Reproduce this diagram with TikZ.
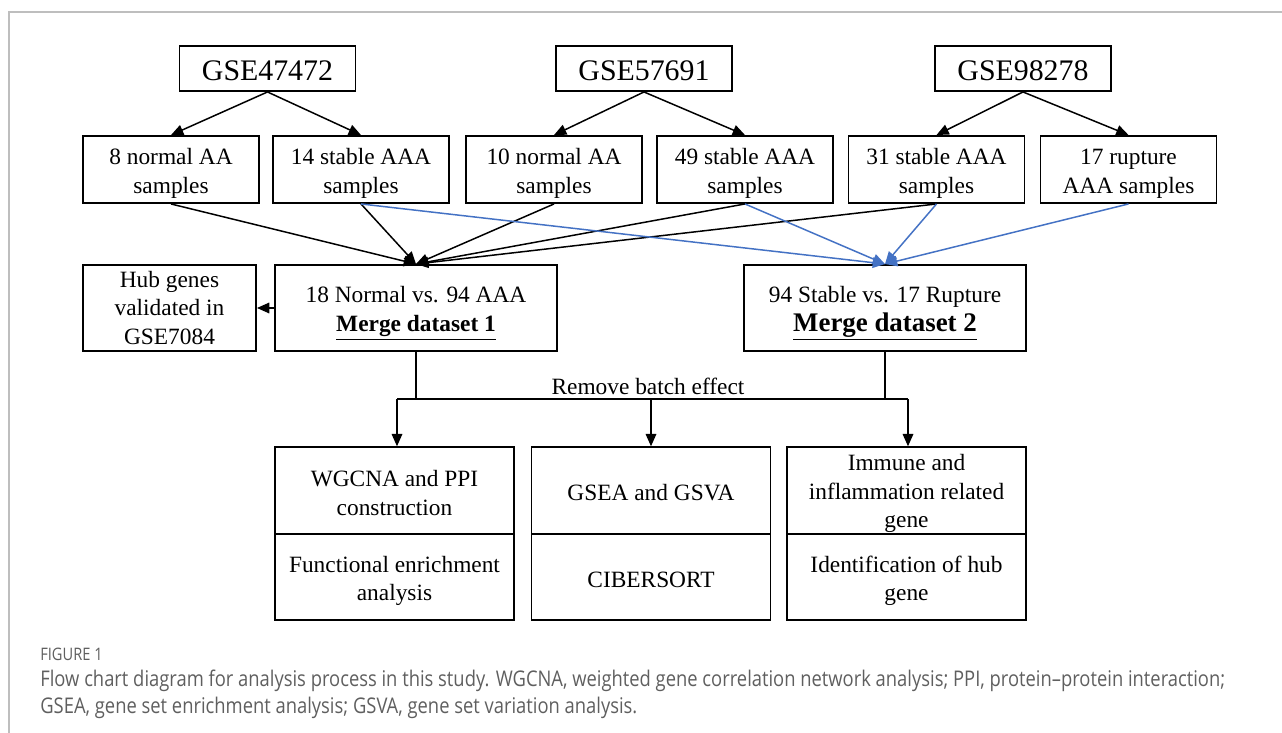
\documentclass[tikz,border=0pt]{standalone}
\usepackage{fontspec}
\setmainfont{Liberation Serif}
\newfontfamily\capfont[FakeStretch=0.85]{Open Sans}
\usetikzlibrary{arrows.meta}
\definecolor{linkblue}{RGB}{68,114,196}
\definecolor{capgray}{RGB}{95,95,95}
\definecolor{framegray}{RGB}{190,190,190}
% strut that lowers the first line a little, as in the original layout
\newcommand{\fl}[1][13.5pt]{\rule{0pt}{#1}}
\tikzset{
  gsebox/.style={draw, line width=1.1pt, minimum width=3.52cm, minimum height=0.9cm, inner sep=0pt, font=\fontsize{17}{20}\selectfont},
  samplebox/.style={draw, line width=1.1pt, minimum width=3.52cm, minimum height=1.34cm, inner sep=0pt, align=center, font=\fontsize{13.3}{16.4}\selectfont},
  mergebox/.style={draw, line width=1.1pt, minimum width=5.63cm, minimum height=1.72cm, inner sep=0pt, align=center, font=\fontsize{13.3}{16.4}\selectfont},
  taskbox/.style={draw, line width=1.1pt, minimum width=4.78cm, minimum height=1.73cm, inner sep=0pt, align=center, font=\fontsize{13.3}{16.2}\selectfont},
  flow/.style={line width=0.85pt, -{Triangle[length=7pt,width=6pt]}},
  blueflow/.style={flow, linkblue},
  capline/.style={anchor=base west, inner sep=0pt, text=capgray, font=\capfont\fontsize{12.3}{14}\selectfont}
}

\begin{document}
\begin{tikzpicture}[x=0.02cm, y=-0.02cm]
    %%%%% START %%%%%
    \useasboundingbox (0,0) rectangle (1282,733);
    \draw[framegray, line width=0.9pt] (9,733) -- (9,12) -- (1282,12);

    % datasets
    \node[gsebox] (gseA) at (267.5,68.5) {\fl[14pt]GSE47472};
    \node[gsebox] (gseB) at (644,68.5) {\fl[14pt]GSE57691};
    \node[gsebox] (gseC) at (1023,68.5) {\fl[14pt]GSE98278};

    % sample groups
    \node[samplebox] (sA1) at (171,169.5) {\fl 8 normal AA\\samples};
    \node[samplebox] (sA2) at (361,169.5) {\fl 14 stable AAA\\samples};
    \node[samplebox] (sB1) at (554,169.5) {\fl 10 normal AA\\samples};
    \node[samplebox] (sB2) at (745,169.5) {\fl 49 stable AAA\\samples};
    \node[samplebox] (sC1) at (936.5,169.5) {\fl 31 stable AAA\\samples};
    \node[samplebox] (sC2) at (1128.5,169.5) {\fl 17 rupture\\AAA samples};

    \draw[flow] (gseA.south) -- (sA1.north);
    \draw[flow] (gseA.south) -- (sA2.north);
    \draw[flow] (gseB.south) -- (sB1.north);
    \draw[flow] (gseB.south) -- (sB2.north);
    \draw[flow] (gseC.south) -- (sC1.north);
    \draw[flow] (gseC.south) -- (sC2.north);

    % merged sets
    \node[samplebox, minimum width=3.46cm, minimum height=1.72cm] (hub) at (169.5,308) {Hub genes\\validated in\\GSE7084};
    \node[mergebox] (merge1) at (416,308) {\fl[15.5pt]18 Normal vs. 94 AAA\\\underline{\textbf{Merge dataset 1}}};
    \node[mergebox] (merge2) at (885,308) {\fl[15.5pt]94 Stable vs. 17 Rupture\\\fontsize{15.3}{19.5}\selectfont\underline{\textbf{Merge dataset 2}}};

    \foreach \s in {sA1,sA2,sB1,sB2,sC1}
      \draw[flow] (\s.south) -- (merge1.north);
    \foreach \s in {sA2,sB2,sC1,sC2}
      \draw[blueflow] (\s.south) -- (merge2.north);
    \draw[flow] (merge1.west) -- (hub.east);

    % batch correction
    \coordinate (jl) at (397,399);
    \coordinate (jr) at (908,399);
    \draw[line width=0.85pt] (merge1.south) -- (merge1.south |- jl);
    \draw[line width=0.85pt] (merge2.south) -- (merge2.south |- jr);
    \draw[line width=0.85pt] (jl) -- (jr);
    \node[font=\fontsize{13.3}{16}\selectfont, inner sep=0pt] (batch) at (648,386) {Remove batch effect};

    % analyses
    \node[taskbox] (t1a) at (394.5,490.5) {\fl[12pt]WGCNA and PPI\\construction};
    \node[taskbox] (t1b) at (394.5,577) {\fl Functional enrichment\\analysis};
    \node[taskbox] (t2a) at (651,490.5) {\fl[12pt]GSEA and GSVA};
    \node[taskbox] (t2b) at (651,577) {\fl[12.5pt]CIBERSORT};
    \node[taskbox] (t3a) at (906.5,490.5) {\fl[13pt]Immune and\\inflammation related\\gene};
    \node[taskbox] (t3b) at (906.5,577) {\fl Identification of hub\\gene};

    \draw[flow] (jl) -- (jl |- t1a.north);
    \draw[flow] (t2a.north |- jl) -- (t2a.north);
    \draw[flow] (jr) -- (jr |- t3a.north);

    % caption
    \node[capline, font=\capfont\fontsize{9.8}{11}\selectfont] (fig) at (40,660) {FIGURE 1};
    \node[capline] (cap1) at (40,686) {Flow chart diagram for analysis process in this study. WGCNA, weighted gene correlation network analysis; PPI, protein–protein interaction;};
    \node[capline] (cap2) at (40,713) {GSEA, gene set enrichment analysis; GSVA, gene set variation analysis.};
    %%%%% END %%%%%
\end{tikzpicture}
\end{document}
